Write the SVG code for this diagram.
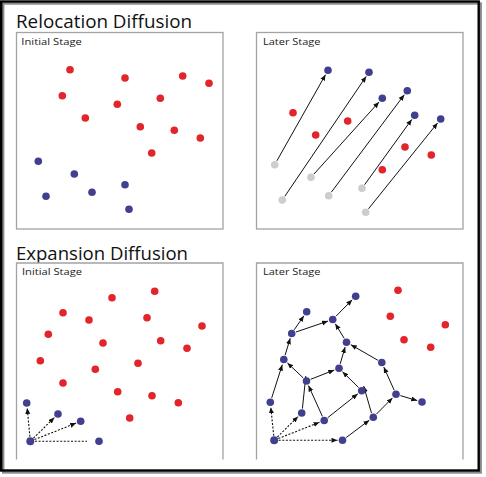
<svg xmlns="http://www.w3.org/2000/svg" width="486" height="477" viewBox="0 0 486 477">
<style>
.frame{fill:none;stroke:#000;stroke-width:2.4}
.shadow{fill:none;stroke:#8a8a8a;stroke-width:2.4}
.panel{fill:#fff;stroke:#a3a3a3;stroke-width:1.3}
.title{font-family:"Open Sans","Liberation Sans",sans-serif;font-size:18.5px;fill:#111}
.label{font-family:"Open Sans","Liberation Sans",sans-serif;font-size:9.6px;fill:#222}
.r{fill:#e2242b}
.b{fill:#433f8f}
.g{fill:#cfcccb}
.ln{stroke:#111;stroke-width:1;fill:none;marker-end:url(#ah)}
.dt{stroke:#111;stroke-width:1.1;fill:none;stroke-dasharray:2 1.6}
.dta{stroke:#111;stroke-width:1.1;fill:none;stroke-dasharray:2 1.6;marker-end:url(#ah)}
</style>
<defs>
<marker id="ah" markerUnits="userSpaceOnUse" markerWidth="7" markerHeight="6" refX="6" refY="2.5" orient="auto">
<path d="M0,0 L6,2.5 L0,5 z" fill="#111"/>
</marker>
</defs>
<rect width="486" height="477" fill="#fff"/>
<rect class="shadow" x="3.2" y="3.5" width="477.5" height="469"/>
<rect class="frame" x="1.2" y="1.5" width="477.5" height="469" fill="#fff"/>

<text class="title" x="16" y="28.3" textLength="176" lengthAdjust="spacingAndGlyphs">Relocation Diffusion</text>
<text class="title" x="16" y="259.6" textLength="172" lengthAdjust="spacingAndGlyphs">Expansion Diffusion</text>

<g id="panel-reloc-initial">
<rect class="panel" x="16.5" y="32.5" width="206.5" height="196.5"/>
<text class="label" x="21.3" y="45" textLength="60.5" lengthAdjust="spacingAndGlyphs">Initial Stage</text>
</g>
<g id="panel-reloc-later">
<rect class="panel" x="256.5" y="32.5" width="206.5" height="196.5"/>
<text class="label" x="263" y="45" textLength="57.5" lengthAdjust="spacingAndGlyphs">Later Stage</text>
</g>
<g id="panel-exp-initial">
<path class="panel" d="M16.5,459.5 V263 H223 V459.5"/>
<text class="label" x="22" y="275" textLength="60" lengthAdjust="spacingAndGlyphs">Initial Stage</text>
</g>
<g id="panel-exp-later">
<path class="panel" d="M256.5,459.5 V263 H463 V459.5"/>
<text class="label" x="263" y="275" textLength="57.5" lengthAdjust="spacingAndGlyphs">Later Stage</text>
</g>

<g id="connectors">
<line class="ln" x1="276.9" y1="160.8" x2="325.5" y2="74.7"/>
<line class="ln" x1="284.8" y1="196.3" x2="366.2" y2="76.4"/>
<line class="ln" x1="314" y1="174" x2="379" y2="102"/>
<line class="ln" x1="331.4" y1="192.1" x2="404.3" y2="94.7"/>
<line class="ln" x1="364.6" y1="184.7" x2="411.8" y2="119.4"/>
<line class="ln" x1="368.5" y1="208.8" x2="437.6" y2="122.9"/>

<line class="dta" x1="29.9" y1="436.8" x2="27.2" y2="408"/>
<line class="dta" x1="33.5" y1="438.1" x2="54.4" y2="417.5"/>
<line class="dta" x1="34.5" y1="439.6" x2="76.1" y2="423.1"/>
<line class="dt" x1="35" y1="441.3" x2="87" y2="441.3"/>

<line class="ln" x1="294.2" y1="329.8" x2="303.9" y2="315.8"/>
<line class="ln" x1="296" y1="332" x2="328" y2="321.1"/>
<line class="ln" x1="335.9" y1="316.3" x2="352.2" y2="299.8"/>
<line class="ln" x1="344.2" y1="338.4" x2="335.3" y2="323.8"/>
<line class="ln" x1="340.2" y1="363.9" x2="345.1" y2="347"/>
<line class="ln" x1="377.9" y1="360.3" x2="350.8" y2="344.7"/>
<line class="ln" x1="285.1" y1="355.2" x2="290.2" y2="338.3"/>
<line class="ln" x1="303.2" y1="377.9" x2="287.4" y2="362.9"/>
<line class="ln" x1="310.7" y1="379.3" x2="334.3" y2="370"/>
<line class="ln" x1="271.7" y1="397.9" x2="282.3" y2="364.7"/>
<line class="ln" x1="302.4" y1="408.6" x2="305.8" y2="376.1"/>
<line class="ln" x1="322.4" y1="416.4" x2="308.5" y2="385.6"/>
<line class="ln" x1="327.7" y1="417.7" x2="357.8" y2="393.8"/>
<line class="ln" x1="358.5" y1="387.5" x2="342.5" y2="371.7"/>
<line class="ln" x1="371.5" y1="413.1" x2="363.7" y2="386.1"/>
<line class="ln" x1="346.1" y1="437.6" x2="369.3" y2="420.2"/>
<line class="ln" x1="376.5" y1="414" x2="392.5" y2="397.9"/>
<line class="ln" x1="394.2" y1="390.2" x2="383.8" y2="367.1"/>
<line class="ln" x1="400.3" y1="395.6" x2="417.2" y2="400.6"/>
<line class="dta" x1="273.7" y1="435.7" x2="270.8" y2="407.2"/>
<line class="dta" x1="277.4" y1="437" x2="298.1" y2="416.5"/>
<line class="dta" x1="278.4" y1="438.5" x2="319.5" y2="422.3"/>
<line class="dta" x1="278.7" y1="440.2" x2="337.5" y2="440.3"/>
</g>

<g id="n1r1"><circle class="r" cx="70" cy="69.7" r="3.8"/></g>
<g id="n1r2"><circle class="r" cx="125" cy="78" r="3.8"/></g>
<g id="n1r3"><circle class="r" cx="182.7" cy="76" r="3.8"/></g>
<g id="n1r4"><circle class="r" cx="209" cy="83.3" r="3.8"/></g>
<g id="n1r5"><circle class="r" cx="62.3" cy="95.7" r="3.8"/></g>
<g id="n1r6"><circle class="r" cx="117.3" cy="104.3" r="3.8"/></g>
<g id="n1r7"><circle class="r" cx="160.3" cy="98.3" r="3.8"/></g>
<g id="n1r8"><circle class="r" cx="85.3" cy="118" r="3.8"/></g>
<g id="n1r9"><circle class="r" cx="140.3" cy="126.7" r="3.8"/></g>
<g id="n1r10"><circle class="r" cx="174.3" cy="130.3" r="3.8"/></g>
<g id="n1r11"><circle class="r" cx="200.3" cy="138" r="3.8"/></g>
<g id="n1r12"><circle class="r" cx="151.7" cy="153" r="3.8"/></g>
<g id="n1b1"><circle class="b" cx="38.3" cy="161.3" r="3.8"/></g>
<g id="n1b2"><circle class="b" cx="74.3" cy="174" r="3.8"/></g>
<g id="n1b3"><circle class="b" cx="125" cy="184.7" r="3.8"/></g>
<g id="n1b4"><circle class="b" cx="46" cy="196.3" r="3.8"/></g>
<g id="n1b5"><circle class="b" cx="92" cy="192.3" r="3.8"/></g>
<g id="n1b6"><circle class="b" cx="129" cy="209.3" r="3.8"/></g>

<g id="n2b1"><circle class="b" cx="328" cy="70.3" r="3.8"/></g>
<g id="n2b2"><circle class="b" cx="369" cy="72.3" r="3.8"/></g>
<g id="n2b3"><circle class="b" cx="382.3" cy="98.3" r="3.8"/></g>
<g id="n2b4"><circle class="b" cx="407.3" cy="90.7" r="3.8"/></g>
<g id="n2b5"><circle class="b" cx="414.7" cy="115.3" r="3.8"/></g>
<g id="n2b6"><circle class="b" cx="440.7" cy="119" r="3.8"/></g>
<g id="n2r1"><circle class="r" cx="293" cy="112.7" r="3.8"/></g>
<g id="n2r2"><circle class="r" cx="315.7" cy="135" r="3.8"/></g>
<g id="n2r3"><circle class="r" cx="347.7" cy="121" r="3.8"/></g>
<g id="n2r4"><circle class="r" cx="405" cy="147" r="3.8"/></g>
<g id="n2r5"><circle class="r" cx="431.3" cy="155" r="3.8"/></g>
<g id="n2r6"><circle class="r" cx="382.3" cy="169.7" r="3.8"/></g>
<g id="n2g1"><circle class="g" cx="274.7" cy="164.7" r="3.8"/></g>
<g id="n2g2"><circle class="g" cx="282.3" cy="200" r="3.8"/></g>
<g id="n2g3"><circle class="g" cx="311" cy="177.3" r="3.8"/></g>
<g id="n2g4"><circle class="g" cx="328.7" cy="195.7" r="3.8"/></g>
<g id="n2g5"><circle class="g" cx="362" cy="188.3" r="3.8"/></g>
<g id="n2g6"><circle class="g" cx="365.7" cy="212.3" r="3.8"/></g>

<g id="n3r1"><circle class="r" cx="112" cy="297.7" r="3.8"/></g>
<g id="n3r2"><circle class="r" cx="154.7" cy="291.3" r="3.8"/></g>
<g id="n3r3"><circle class="r" cx="63" cy="312.7" r="3.8"/></g>
<g id="n3r4"><circle class="r" cx="89" cy="320" r="3.8"/></g>
<g id="n3r5"><circle class="r" cx="147" cy="317.7" r="3.8"/></g>
<g id="n3r6"><circle class="r" cx="202" cy="326" r="3.8"/></g>
<g id="n3r7"><circle class="r" cx="48.3" cy="334.3" r="3.8"/></g>
<g id="n3r8"><circle class="r" cx="103" cy="343" r="3.8"/></g>
<g id="n3r9"><circle class="r" cx="160.7" cy="340.7" r="3.8"/></g>
<g id="n3r10"><circle class="r" cx="187" cy="348.3" r="3.8"/></g>
<g id="n3r11"><circle class="r" cx="40.3" cy="360.7" r="3.8"/></g>
<g id="n3r12"><circle class="r" cx="138" cy="363.3" r="3.8"/></g>
<g id="n3r13"><circle class="r" cx="95.3" cy="369.3" r="3.8"/></g>
<g id="n3r14"><circle class="r" cx="63" cy="383" r="3.8"/></g>
<g id="n3r15"><circle class="r" cx="117.7" cy="391.7" r="3.8"/></g>
<g id="n3r16"><circle class="r" cx="152" cy="395.7" r="3.8"/></g>
<g id="n3r17"><circle class="r" cx="178.3" cy="402.7" r="3.8"/></g>
<g id="n3r18"><circle class="r" cx="129.7" cy="418" r="3.8"/></g>
<g id="n3b1"><circle class="b" cx="26.7" cy="403" r="3.8"/></g>
<g id="n3b2"><circle class="b" cx="58" cy="414" r="3.8"/></g>
<g id="n3b3"><circle class="b" cx="80.7" cy="421.3" r="3.8"/></g>
<g id="n3b4"><circle class="b" cx="30.3" cy="441.3" r="4"/></g>
<g id="n3b5"><circle class="b" cx="99" cy="441.3" r="3.8"/></g>

<g id="n4r1"><circle class="r" cx="398" cy="290.3" r="3.8"/></g>
<g id="n4r2"><circle class="r" cx="390.3" cy="316.3" r="3.8"/></g>
<g id="n4r3"><circle class="r" cx="445.3" cy="324.7" r="3.8"/></g>
<g id="n4r4"><circle class="r" cx="404" cy="339.7" r="3.8"/></g>
<g id="n4r5"><circle class="r" cx="430.7" cy="347.3" r="3.8"/></g>
<g id="n4A"><circle class="b" cx="355.7" cy="296.3" r="3.8"/></g>
<g id="n4B"><circle class="b" cx="306.7" cy="311.7" r="3.8"/></g>
<g id="n4C"><circle class="b" cx="332.7" cy="319.5" r="3.8"/></g>
<g id="n4D"><circle class="b" cx="291.7" cy="333.5" r="3.8"/></g>
<g id="n4E"><circle class="b" cx="346.5" cy="342.2" r="3.8"/></g>
<g id="n4F"><circle class="b" cx="283.8" cy="359.5" r="3.8"/></g>
<g id="n4G"><circle class="b" cx="381.8" cy="362.5" r="3.8"/></g>
<g id="n4H"><circle class="b" cx="339" cy="368.2" r="3.8"/></g>
<g id="n4I"><circle class="b" cx="306.5" cy="381" r="3.8"/></g>
<g id="n4J"><circle class="b" cx="361.7" cy="390.7" r="3.8"/></g>
<g id="n4K"><circle class="b" cx="396" cy="394.3" r="3.8"/></g>
<g id="n4L"><circle class="b" cx="270.3" cy="402.2" r="3.8"/></g>
<g id="n4M"><circle class="b" cx="422" cy="402" r="3.8"/></g>
<g id="n4N"><circle class="b" cx="301.7" cy="413" r="3.8"/></g>
<g id="n4O"><circle class="b" cx="324.2" cy="420.5" r="3.8"/></g>
<g id="n4P"><circle class="b" cx="373.3" cy="417.2" r="3.8"/></g>
<g id="n4Q"><circle class="b" cx="274.2" cy="440.2" r="4"/></g>
<g id="n4R"><circle class="b" cx="342.5" cy="440.3" r="3.8"/></g>
</svg>
